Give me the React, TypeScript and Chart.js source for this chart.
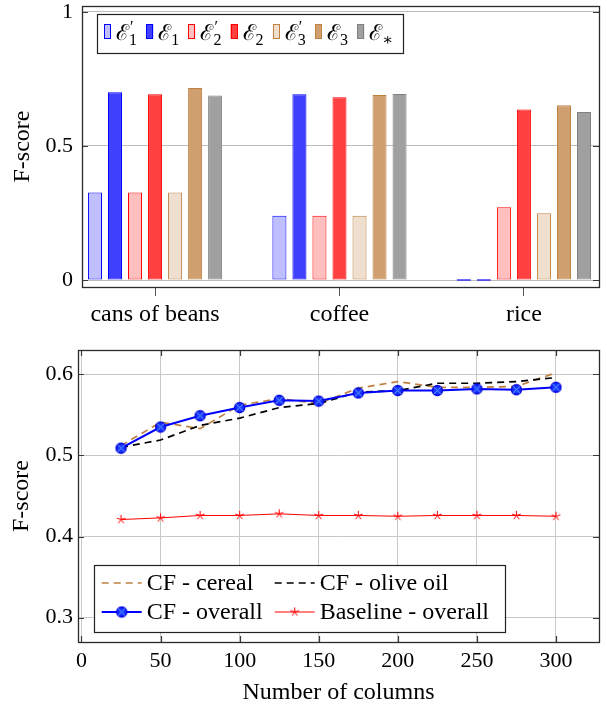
import React, { useEffect, useRef } from "react";
import { Chart, registerables } from "chart.js";

Chart.register(...registerables);

// ---------- Data: top bar chart ----------
const barCategories = ["cans of beans", "coffee", "rice"];
const barSeriesLabels = ["ℰ′₁", "ℰ₁", "ℰ′₂", "ℰ₂", "ℰ′₃", "ℰ₃", "ℰ∗"];
const e1Prime = [0.326, 0.24, 0];
const e1 = [0.7, 0.693, 0];
const e2Prime = [0.326, 0.24, 0.271];
const e2 = [0.693, 0.682, 0.636];
const e3Prime = [0.326, 0.24, 0.249];
const e3 = [0.716, 0.69, 0.652];
const eStar = [0.688, 0.694, 0.627];
const barYTicks = [0, 0.5, 1];

// ---------- Data: bottom line chart ----------
const columns = [25, 50, 75, 100, 125, 150, 175, 200, 225, 250, 275, 300];
const cfCereal = [0.512, 0.541, 0.533, 0.562, 0.57, 0.564, 0.583, 0.591, 0.584, 0.584, 0.585, 0.602];
const cfOliveOil = [0.51, 0.519, 0.537, 0.546, 0.559, 0.564, 0.578, 0.58, 0.589, 0.589, 0.591, 0.596];
const cfOverall = [0.509, 0.535, 0.549, 0.559, 0.568, 0.567, 0.577, 0.58, 0.58, 0.582, 0.581, 0.584];
const baselineOverall = [0.421, 0.423, 0.426, 0.426, 0.428, 0.426, 0.426, 0.425, 0.426, 0.426, 0.426, 0.425];
const lineXTicks = [0, 50, 100, 150, 200, 250, 300];
const lineYTicks = [0.3, 0.4, 0.5, 0.6];
const lineSeriesLabels = ["CF - cereal", "CF - olive oil", "CF - overall", "Baseline - overall"];

const FAMILY = "'Liberation Serif', 'DejaVu Serif', serif";
const NUM_FONT = { family: FAMILY, size: 22 };
const TEXT_FONT = { family: FAMILY, size: 24 };

const BLUE = "rgb(0,0,255)";
const RED = "rgb(255,0,0)";
const BROWN = "rgb(191,128,64)";
const GRAY = "rgb(128,128,128)";

const fmt = (v: any) => String(Math.round(Number(v) * 1000) / 1000);

function makeOtimes(): HTMLCanvasElement {
  const c = document.createElement("canvas");
  c.width = 13;
  c.height = 13;
  const g = c.getContext("2d")!;
  const r = 5;
  g.beginPath();
  g.arc(6.5, 6.5, r, 0, Math.PI * 2);
  g.fillStyle = "#1a33ff";
  g.fill();
  g.lineWidth = 1.3;
  g.strokeStyle = "#0000dd";
  g.stroke();
  const d = r / Math.SQRT2;
  g.beginPath();
  g.moveTo(6.5 - d, 6.5 - d);
  g.lineTo(6.5 + d, 6.5 + d);
  g.moveTo(6.5 + d, 6.5 - d);
  g.lineTo(6.5 - d, 6.5 + d);
  g.strokeStyle = "#5aa8ff";
  g.lineWidth = 1;
  g.stroke();
  return c;
}

function makeStar(): HTMLCanvasElement {
  const c = document.createElement("canvas");
  c.width = 11;
  c.height = 11;
  const g = c.getContext("2d")!;
  g.strokeStyle = RED;
  g.lineWidth = 1;
  g.beginPath();
  for (let k = 0; k < 5; k++) {
    const a = -Math.PI / 2 + (k * 2 * Math.PI) / 5;
    g.moveTo(5.5, 5.5);
    g.lineTo(5.5 + 4.6 * Math.cos(a), 5.5 + 4.6 * Math.sin(a));
  }
  g.stroke();
  return c;
}

// Frame + inward ticks
function framePlugin(tickX: boolean) {
  return {
    id: "frame",
    afterDraw(chart: any) {
      const { ctx, chartArea } = chart;
      const { left, right, top, bottom } = chartArea;
      ctx.save();
      ctx.strokeStyle = "#3a3a3a";
      ctx.lineWidth = 1.2;
      const ys = chart.scales.y;
      ctx.beginPath();
      ys.ticks.forEach((t: any) => {
        const py = Math.round(ys.getPixelForValue(t.value)) + 0.5;
        ctx.moveTo(left, py);
        ctx.lineTo(left + 6, py);
        ctx.moveTo(right, py);
        ctx.lineTo(right - 6, py);
      });
      if (tickX) {
        const xs = chart.scales.x;
        xs.ticks.forEach((t: any) => {
          const px = Math.round(xs.getPixelForValue(t.value)) + 0.5;
          ctx.moveTo(px, top);
          ctx.lineTo(px, top + 6);
          ctx.moveTo(px, bottom);
          ctx.lineTo(px, bottom - 6);
        });
      }
      ctx.stroke();
      ctx.lineWidth = 1.3;
      ctx.strokeStyle = "#2a2a2a";
      ctx.strokeRect(Math.round(left) + 0.5, Math.round(top) + 0.5, Math.round(right - left), Math.round(bottom - top));
      ctx.restore();
    },
  };
}

function drawMathLabel(ctx: CanvasRenderingContext2D, text: string, x: number, y: number) {
  const subMap: Record<string, string> = { "₁": "1", "₂": "2", "₃": "3", "∗": "∗" };
  let cx = x;
  let lastBaseEnd = x;
  for (const ch of Array.from(text)) {
    if (ch === "′") {
      ctx.font = `16px ${FAMILY}`;
      ctx.fillText("′", lastBaseEnd + 1, y - 8);
      cx = Math.max(cx, lastBaseEnd + 1 + ctx.measureText("′").width);
    } else if (subMap[ch]) {
      ctx.font = `16px ${FAMILY}`;
      ctx.fillText(subMap[ch], lastBaseEnd, y + 5);
      cx = Math.max(cx, lastBaseEnd + ctx.measureText(subMap[ch]).width);
    } else {
      ctx.font = `22px ${FAMILY}`;
      ctx.fillText(ch, cx, y);
      cx += ctx.measureText(ch).width;
      lastBaseEnd = cx;
    }
  }
  return cx - x;
}

const barLegendPlugin = {
  id: "barLegend",
  afterDraw(chart: any) {
    const { ctx, chartArea } = chart;
    const bx = chartArea.left + 15;
    const by = chartArea.top + 8;
    const bw = 306;
    const bh = 39;
    ctx.save();
    ctx.fillStyle = "#fff";
    ctx.fillRect(bx, by, bw, bh);
    ctx.strokeStyle = "#222";
    ctx.lineWidth = 1.2;
    ctx.strokeRect(Math.round(bx) + 0.5, Math.round(by) + 0.5, bw, bh);
    chart.data.datasets.forEach((ds: any, i: number) => {
      const ix = bx + 7 + i * 42.2;
      ctx.fillStyle = ds.backgroundColor;
      ctx.fillRect(ix, by + 10, 7, 15);
      ctx.strokeStyle = ds.borderColor;
      ctx.lineWidth = 1;
      ctx.strokeRect(Math.round(ix) + 0.5, by + 10.5, 6, 14);
      ctx.fillStyle = "#000";
      ctx.textBaseline = "alphabetic";
      drawMathLabel(ctx, ds.label, ix + 12, by + 26);
    });
    ctx.restore();
  },
};

function lineLegendPlugin() {
  return {
    id: "lineLegend",
    afterDraw(chart: any) {
      const { ctx, chartArea } = chart;
      const bw = 411;
      const bh = 67;
      const bx = chartArea.left + 15.7;
      const by = chartArea.bottom - 10 - bh;
      ctx.save();
      ctx.fillStyle = "#fff";
      ctx.fillRect(bx, by, bw, bh);
      ctx.strokeStyle = "#222";
      ctx.lineWidth = 1.2;
      ctx.strokeRect(Math.round(bx) + 0.5, Math.round(by) + 0.5, bw, bh);
      const ds = chart.data.datasets;
      const cells = [
        { d: ds[0], col: 0, row: 0 },
        { d: ds[1], col: 1, row: 0 },
        { d: ds[2], col: 0, row: 1 },
        { d: ds[3], col: 1, row: 1 },
      ];
      cells.forEach(({ d, col, row }) => {
        const sx = bx + (col === 0 ? 8 : 181);
        const ex = sx + 40;
        const cy = by + (row === 0 ? 18 : 47);
        ctx.strokeStyle = d.borderColor;
        ctx.lineWidth = d.borderWidth;
        ctx.setLineDash(d.borderDash || []);
        ctx.beginPath();
        ctx.moveTo(sx, cy);
        ctx.lineTo(ex, cy);
        ctx.stroke();
        ctx.setLineDash([]);
        if (d.pointStyle && d.pointStyle instanceof HTMLCanvasElement) {
          const img = d.pointStyle as HTMLCanvasElement;
          ctx.drawImage(img, (sx + ex) / 2 - img.width / 2, cy - img.height / 2);
        }
        ctx.fillStyle = "#000";
        ctx.font = `24px ${FAMILY}`;
        ctx.textBaseline = "middle";
        ctx.fillText(d.label, bx + (col === 0 ? 53 : 226), cy + 1);
      });
      ctx.restore();
    },
  };
}

function BarChart() {
  const ref = useRef<HTMLCanvasElement>(null);
  useEffect(() => {
    const series = [e1Prime, e1, e2Prime, e2, e3Prime, e3, eStar];
    const fills = [
      "rgb(191,191,255)",
      "rgb(64,64,255)",
      "rgb(255,191,191)",
      "rgb(255,64,64)",
      "rgb(239,223,207)",
      "rgb(207,159,111)",
      "rgb(160,160,160)",
    ];
    const borders = [BLUE, BLUE, RED, RED, BROWN, BROWN, GRAY];
    const chart = new Chart(ref.current!, {
      type: "bar",
      data: {
        datasets: series.map((vals, i) => ({
          label: barSeriesLabels[i],
          data: vals.map((v, j) => ({ x: j, y: v })),
          backgroundColor: fills[i],
          borderColor: borders[i],
          borderWidth: 1,
          borderSkipped: false,
          minBarLength: 1.5,
          barPercentage: 0.7,
          categoryPercentage: 0.76,
        })),
      },
      options: {
        animation: false,
        responsive: false,
        events: [],
        layout: { padding: { top: 6, right: 8, left: 0, bottom: 0 } },
        plugins: { legend: { display: false }, tooltip: { enabled: false } },
        scales: {
          x: {
            type: "linear",
            min: -0.396,
            max: 2.407,
            offset: false,
            afterBuildTicks: (s: any) => {
              s.ticks = barCategories.map((_, i) => ({ value: i }));
            },
            afterFit: (s: any) => {
              s.height = 43;
            },
            grid: { display: true, drawOnChartArea: false, drawTicks: true, tickLength: 9, color: "#555", offset: false },
            border: { display: false },
            ticks: {
              callback: (v: any) => barCategories[v] ?? "",
              font: TEXT_FONT,
              color: "#000",
              padding: 4,
              maxRotation: 0,
              autoSkip: false,
            },
          },
          y: {
            min: -0.026,
            max: 1.022,
            afterBuildTicks: (s: any) => {
              s.ticks = barYTicks.map((v) => ({ value: v }));
            },
            afterFit: (s: any) => {
              s.width = 82;
              s.paddingTop = 0;
              s.paddingBottom = 0;
            },
            grid: { color: "#bdbdbd", drawTicks: false, lineWidth: 1 },
            border: { display: false },
            ticks: { font: NUM_FONT, color: "#000", padding: 9, callback: fmt },
            title: { display: true, text: "F-score", font: TEXT_FONT, color: "#000", padding: { top: 8, bottom: 0 } },
          },
        },
      } as any,
      plugins: [framePlugin(false), barLegendPlugin],
    });
    return () => chart.destroy();
  }, []);
  return <canvas ref={ref} width={607} height={330} style={{ display: "block" }} />;
}

function LineChart() {
  const ref = useRef<HTMLCanvasElement>(null);
  useEffect(() => {
    const otimes = makeOtimes();
    const star = makeStar();
    const pts = (ys: number[]) => columns.map((x, i) => ({ x, y: ys[i] }));
    const chart = new Chart(ref.current!, {
      type: "line",
      data: {
        datasets: [
          {
            label: lineSeriesLabels[0],
            data: pts(cfCereal),
            borderColor: BROWN,
            borderDash: [7, 5],
            borderWidth: 1.7,
            pointRadius: 0,
            tension: 0,
            fill: false,
            order: 3,
          },
          {
            label: lineSeriesLabels[1],
            data: pts(cfOliveOil),
            borderColor: "#000",
            borderDash: [7, 5],
            borderWidth: 1.7,
            pointRadius: 0,
            tension: 0,
            fill: false,
            order: 2,
          },
          {
            label: lineSeriesLabels[2],
            data: pts(cfOverall),
            borderColor: BLUE,
            borderWidth: 2,
            pointStyle: otimes,
            pointRadius: 5,
            tension: 0,
            fill: false,
            order: 1,
          },
          {
            label: lineSeriesLabels[3],
            data: pts(baselineOverall),
            borderColor: RED,
            borderWidth: 1,
            pointStyle: star,
            pointRadius: 4,
            tension: 0,
            fill: false,
            order: 0,
          },
        ],
      },
      options: {
        animation: false,
        responsive: false,
        events: [],
        layout: { padding: { top: 20, right: 8, left: 0, bottom: 0 } },
        plugins: { legend: { display: false }, tooltip: { enabled: false } },
        scales: {
          x: {
            type: "linear",
            min: -2.2,
            max: 327.2,
            afterBuildTicks: (s: any) => {
              s.ticks = lineXTicks.map((v) => ({ value: v }));
            },
            afterFit: (s: any) => {
              s.height = 66;
            },
            grid: { color: "#c8c8c8", drawTicks: false, lineWidth: 1 },
            border: { display: false },
            ticks: { font: NUM_FONT, color: "#000", padding: 6, maxRotation: 0, autoSkip: false, callback: fmt },
            title: { display: true, text: "Number of columns", font: TEXT_FONT, color: "#000", padding: { top: 0, bottom: 1 } },
          },
          y: {
            min: 0.27,
            max: 0.63,
            afterBuildTicks: (s: any) => {
              s.ticks = lineYTicks.map((v) => ({ value: v }));
            },
            afterFit: (s: any) => {
              s.width = 78;
              s.paddingTop = 0;
              s.paddingBottom = 0;
            },
            grid: { color: "#c8c8c8", drawTicks: false, lineWidth: 1 },
            border: { display: false },
            ticks: { font: NUM_FONT, color: "#000", padding: 5, callback: fmt },
            title: { display: true, text: "F-score", font: TEXT_FONT, color: "#000", padding: { top: 7, bottom: 0 } },
          },
        },
      } as any,
      plugins: [framePlugin(true), lineLegendPlugin()],
    });
    return () => chart.destroy();
  }, []);
  return <canvas ref={ref} width={607} height={378} style={{ display: "block" }} />;
}

export default function App() {
  return (
    <div style={{ position: "absolute", left: 0, top: 0, width: 607, height: 708, background: "#fff" }}>
      <BarChart />
      <LineChart />
    </div>
  );
}
